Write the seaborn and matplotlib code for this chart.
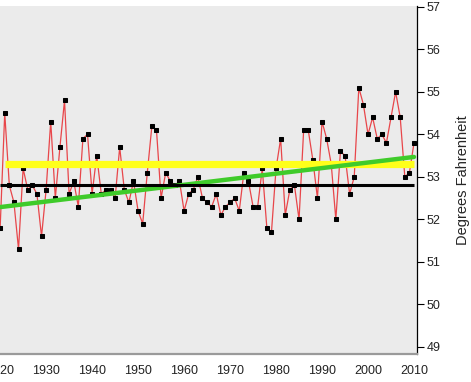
import numpy as np
import matplotlib
matplotlib.use("Agg")
import matplotlib.pyplot as plt
import seaborn as sns

# annual mean temperature, degrees F
years = np.arange(1920, 2011)
temps = [
    51.8, 54.5, 52.8, 52.4, 51.3, 53.2, 52.7, 52.8, 52.6, 51.6,   # 1920s
    52.7, 54.3, 52.5, 53.7, 54.8, 52.6, 52.9, 52.3, 53.9, 54.0,   # 1930s
    52.6, 53.5, 52.6, 52.7, 52.7, 52.5, 53.7, 52.7, 52.4, 52.9,   # 1940s
    52.2, 51.9, 53.1, 54.2, 54.1, 52.5, 53.1, 52.9, 52.8, 52.9,   # 1950s
    52.2, 52.6, 52.7, 53.0, 52.5, 52.4, 52.3, 52.6, 52.1, 52.3,   # 1960s
    52.4, 52.5, 52.2, 53.1, 52.9, 52.3, 52.3, 53.2, 51.8, 51.7,   # 1970s
    53.2, 53.9, 52.1, 52.7, 52.8, 52.0, 54.1, 54.1, 53.4, 52.5,   # 1980s
    54.3, 53.9, 53.3, 52.0, 53.6, 53.5, 52.6, 53.0, 55.1, 54.7,   # 1990s
    54.0, 54.4, 53.9, 54.0, 53.8, 54.4, 55.0, 54.4, 53.0, 53.1,   # 2000s
    53.8,                                                         # 2010
]

baseline = 52.8        # black reference line
recent_mean = 53.3     # yellow band
trend_ends = [52.29, 53.47]   # green trend line, 1920 -> 2010

x_ticks = list(range(1920, 2011, 10))
y_ticks = list(range(49, 58))

sns.set_style("white", {"axes.facecolor": "#EBEBEB"})
plt.rcParams["font.family"] = ["Liberation Sans", "DejaVu Sans"]

fig = plt.figure(figsize=(4.71, 3.82), dpi=100)
ax = fig.add_axes([0.0, 28 / 382, 417 / 471, 348 / 382])

# yearly series: thin red line with small black square markers
sns.lineplot(x=years, y=temps, ax=ax, color="#E8464A", linewidth=0.9,
             marker="s", markersize=2.7, markerfacecolor="black",
             markeredgecolor="black", zorder=2)

ax.hlines(recent_mean, years[1], years[-1], color="#FFFF1A", linewidth=5.2, zorder=3)
sns.lineplot(x=[years[0], years[-1]], y=trend_ends, ax=ax, color="#3FCB2A",
             linewidth=3.2, zorder=4)
ax.hlines(baseline, years[0], years[-1], color="black", linewidth=2.2, zorder=5)

ax.set_xlim(1919.97, 2010.65)
ax.set_ylim(48.835, 57.02)
ax.set_xticks(x_ticks)
ax.set_yticks(y_ticks)

ax.yaxis.tick_right()
ax.yaxis.set_label_position("right")
ax.set_ylabel("Degrees Fahrenheit", fontsize=10.5, fontweight="medium", labelpad=11)
ax.set_xlabel("")

for side in ["top", "left"]:
    ax.spines[side].set_visible(False)
ax.spines["right"].set_color("black")
ax.spines["right"].set_linewidth(0.9)
ax.spines["bottom"].set_color("#9A9A9A")
ax.spines["bottom"].set_linewidth(1.6)

ax.tick_params(axis="x", direction="out", length=5, width=1, color="#555555",
               labelsize=9, pad=3, labelcolor="#222222")
ax.tick_params(axis="y", direction="out", length=5, width=0.8, color="black",
               labelsize=9, pad=2, labelcolor="#222222")

fig.savefig("out.png", dpi=100, facecolor="white")
